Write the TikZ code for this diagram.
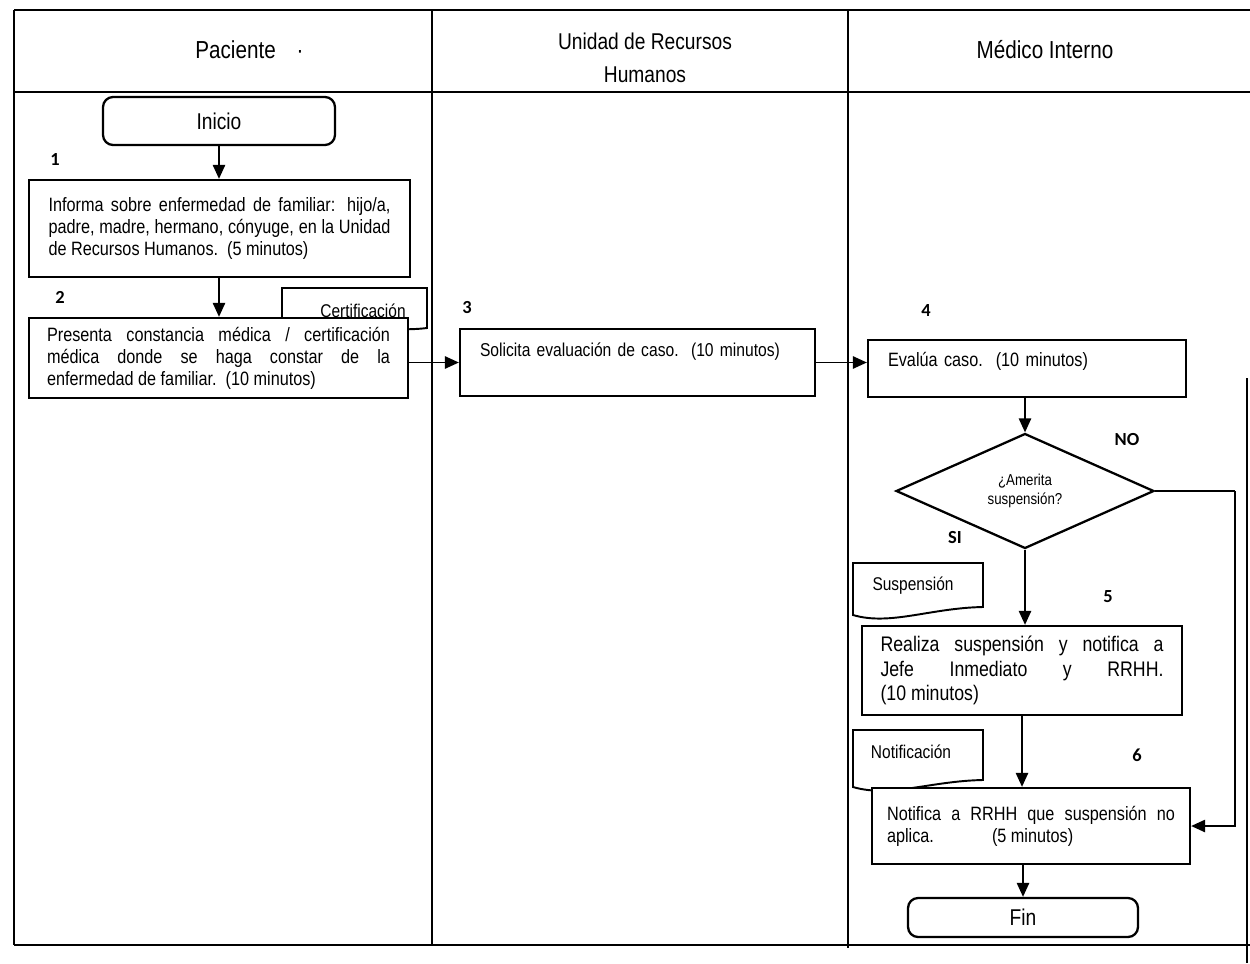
\documentclass[tikz,border=0pt]{standalone}
\usepackage{fontspec}
\setmainfont{Liberation Sans}[FakeStretch=0.84]
\newfontfamily\calib{Carlito}
\usetikzlibrary{shapes.geometric,arrows.meta}
\newcommand{\jl}[2]{\makebox[#1][s]{#2}}
\begin{document}
\begin{tikzpicture}[x=0.02cm,y=-0.02cm,
  frame/.style={line width=1pt},
  procbox/.style={draw,line width=1.3pt,fill=white,rectangle,inner sep=0pt,align=left,
    font=\fontsize{11}{12.5}\selectfont},
  termbox/.style={draw,line width=1.3pt,fill=white,rectangle,rounded corners=0.2cm,inner sep=0pt,
    font=\fontsize{13}{15}\selectfont},
  docshape/.style={draw,line width=1.1pt,fill=white},
  doclabel/.style={font=\fontsize{10.5}{12}\selectfont,inner sep=0pt},
  numlabel/.style={font=\calib\bfseries\fontsize{10.5}{12}\selectfont,inner sep=0pt},
  header/.style={font=\fontsize{14}{18.7}\selectfont,align=center,inner sep=0pt},
  arr/.style={line width=1.1pt,-{Triangle[length=8pt,width=7pt]}},
  conn/.style={line width=1.1pt}]
\useasboundingbox (0,0) rectangle (1250,963);

% lane frame
\draw[frame] (14,10) -- (1250,10);
\draw[frame] (14,92) -- (1250,92);
\draw[frame] (14,10) -- (14,945);
\draw[frame] (14,945) -- (1250,945);
\draw[frame] (432,10) -- (432,945);
\draw[frame] (848,10) -- (848,948);
\draw[frame] (1247,378) -- (1247,963);

% headers
\node[header,anchor=west] (hpac) at (195,50) {Paciente\hspace{0.42cm}·};
\node[header,font=\fontsize{13}{18.7}\selectfont] (hrrhh) at (645,58) {Unidad de Recursos\\Humanos};
\node[header] (hmed) at (1045,50) {Médico Interno};

% documents (drawn before boxes)
\draw[docshape] (282,288) -- (427,288) -- (427,328) .. controls (380,334) and (330,316) .. (282,326) -- cycle;
\node[doclabel] (lcert) at (363,311) {Certificación};
\draw[docshape] (853,563) -- (983,563) -- (983,607) .. controls (930,608) and (890,626) .. (853,615) -- cycle;
\node[doclabel] (lsusp) at (913,586) {Suspensión};
\draw[docshape] (853,730) -- (983,730) -- (983,780) .. controls (930,781) and (890,798) .. (853,787) -- cycle;
\node[doclabel] (lnotif) at (911,752) {Notificación};

% Paciente lane
\node[termbox,minimum width=4.64cm,minimum height=0.96cm] (inicio) at (219,121) {Inicio};
\node[numlabel] (n1) at (55,160) {1};
\node[procbox,minimum width=7.62cm,minimum height=1.94cm] (b1) at (219.5,228.5)
  {\jl{6.84cm}{Informa sobre enfermedad de familiar: hijo/a,}\\
   \jl{6.84cm}{padre, madre, hermano, cónyuge, en la Unidad}\\
   de Recursos Humanos.\ \ (5 minutos)};
\node[numlabel] (n2) at (60,297) {2};
\node[procbox,minimum width=7.58cm,minimum height=1.6cm] (b2) at (218.5,358)
  {\jl{6.86cm}{Presenta constancia médica / certificación}\\
   \jl{6.86cm}{médica donde se haga constar de la}\\
   enfermedad de familiar.\ \ (10 minutos)};

% RRHH lane
\node[numlabel] (n3) at (467,308) {3};
\node[procbox,minimum width=7.1cm,minimum height=1.34cm,text width=6.3cm,
  text height=0.54cm,text depth=0.8cm,font=\fontsize{10.6}{12.5}\selectfont] (b3) at (637.5,362.5)
  {\mbox{Solicita evaluación de caso.\ \ (10 minutos)}};

% Medico lane
\node[numlabel] (n4) at (926,311) {4};
\node[procbox,minimum width=6.36cm,minimum height=1.14cm,text width=5.56cm,
  text height=0.52cm,text depth=0.62cm] (b4) at (1027,368.5)
  {\mbox{Evalúa caso.\ \ (10 minutos)}};
\node[draw,line width=1.3pt,fill=white,diamond,inner sep=0pt,aspect=2.24,
  minimum width=5.16cm,minimum height=2.3cm,align=center,
  font=\fontsize{9}{11}\selectfont] (dia) at (1025,491) {¿Amerita\\suspensión?};
\node[numlabel] (lno) at (1127,440) {NO};
\node[numlabel] (lsi) at (955,538) {SI};
\node[numlabel] (n5) at (1108,597) {5};
\node[procbox,minimum width=6.4cm,minimum height=1.78cm,
  font=\fontsize{12}{14}\selectfont] (b5) at (1022,670.5)
  {\jl{5.66cm}{Realiza suspensión y notifica a}\\
   \jl{5.66cm}{Jefe Inmediato y RRHH.}\\
   (10 minutos)};
\node[numlabel] (n6) at (1137,755) {6};
\node[procbox,minimum width=6.36cm,minimum height=1.52cm] (b6) at (1031,826)
  {\jl{5.76cm}{Notifica a RRHH que suspensión no}\\
   \makebox[2.1cm][l]{aplica.}(5 minutos)};
\node[termbox,minimum width=4.6cm,minimum height=0.78cm] (fin) at (1023,917.5) {Fin};

\coordinate (noturn) at (1235,491);

% connectors
\draw[arr] (inicio.south) -- (inicio.south |- b1.north);
\draw[arr] (inicio.south |- b1.south) -- (inicio.south |- b2.north);
\draw[arr] (b2.east |- b3.west) -- (b3.west);
\draw[arr] (b3.east) -- (b3.east -| b4.west);
\draw[arr] (dia.north |- b4.south) -- (dia.north);
\draw[arr] (dia.south) -- (dia.south |- b5.north);
\draw[arr] (b5.south) -- (b5.south |- b6.north);
\draw[arr] (fin.north |- b6.south) -- (fin.north);
\draw[conn] (dia.east) -- (noturn);
\draw[arr] (noturn) |- (b6.east);
\end{tikzpicture}
\end{document}
